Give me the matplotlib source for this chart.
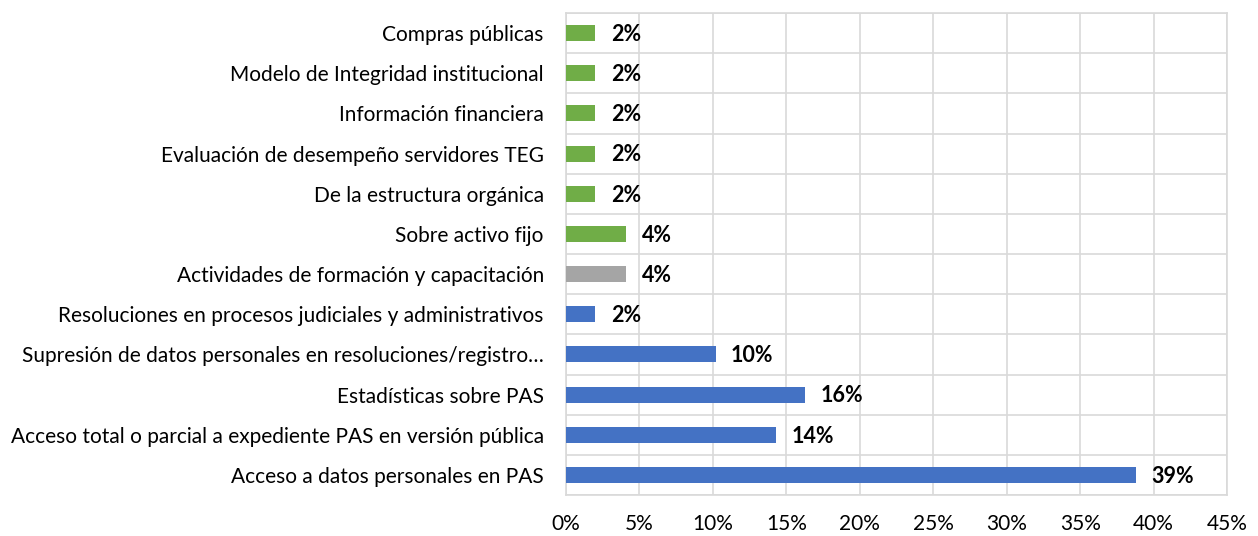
import matplotlib
matplotlib.use("Agg")
import matplotlib.pyplot as plt
from matplotlib.ticker import MultipleLocator, FuncFormatter

categories = [
    "Acceso a datos personales en PAS",
    "Acceso total o parcial a expediente PAS en versión pública",
    "Estadísticas sobre PAS",
    "Supresión de datos personales en resoluciones/registro…",
    "Resoluciones en procesos judiciales y administrativos",
    "Actividades de formación y capacitación",
    "Sobre activo fijo",
    "De la estructura orgánica",
    "Evaluación de desempeño servidores TEG",
    "Información financiera",
    "Modelo de Integridad institucional",
    "Compras públicas",
]
values = [38.8, 14.3, 16.3, 10.2, 2.0, 4.1, 4.1, 2.0, 2.0, 2.0, 2.0, 2.0]
labels = ["39%", "14%", "16%", "10%", "2%", "4%", "4%", "2%", "2%", "2%", "2%", "2%"]
BLUE, GRAY, GREEN = "#4472C4", "#A5A5A5", "#70AD47"
colors = [BLUE, BLUE, BLUE, BLUE, BLUE, GRAY, GREEN, GREEN, GREEN, GREEN, GREEN, GREEN]

plt.rcParams['font.family'] = ['Lato', 'DejaVu Sans']

fig = plt.figure(figsize=(12.58, 5.36), dpi=100)
ax = fig.add_axes([566/1258, 1-495/536, (1227-566)/1258, (495-13)/536])

y = list(range(len(categories)))
ax.barh(y, values, height=0.4, color=colors, zorder=3)
for yi, v, lab in zip(y, values, labels):
    ax.annotate(lab, (v, yi), xytext=(11, -1), textcoords="offset points",
                ha="left", va="center", fontsize=15.5, fontweight="bold", color="black")

ax.set_xlim(0, 45)
ax.set_ylim(-0.5, len(categories) - 0.5)
ax.xaxis.set_major_locator(MultipleLocator(5))
ax.xaxis.set_major_formatter(FuncFormatter(lambda x, p: f"{int(round(x))}%"))
ax.set_yticks(y)
ax.set_yticklabels(categories)
ax.set_yticks([i + 0.5 for i in range(-1, len(categories))], minor=True)
ax.tick_params(axis="y", which="both", length=0, pad=16, labelsize=15)
ax.tick_params(axis="x", length=0, pad=14, labelsize=15)
ax.grid(axis="x", which="major", color="#D9D9D9", linewidth=1.2, zorder=0)
ax.grid(axis="y", which="minor", color="#D9D9D9", linewidth=1.2, zorder=0)
ax.grid(axis="y", which="major", visible=False)
for s in ax.spines.values():
    s.set_color("#D9D9D9")
    s.set_linewidth(1.2)

fig.savefig("out.png", dpi=100)
